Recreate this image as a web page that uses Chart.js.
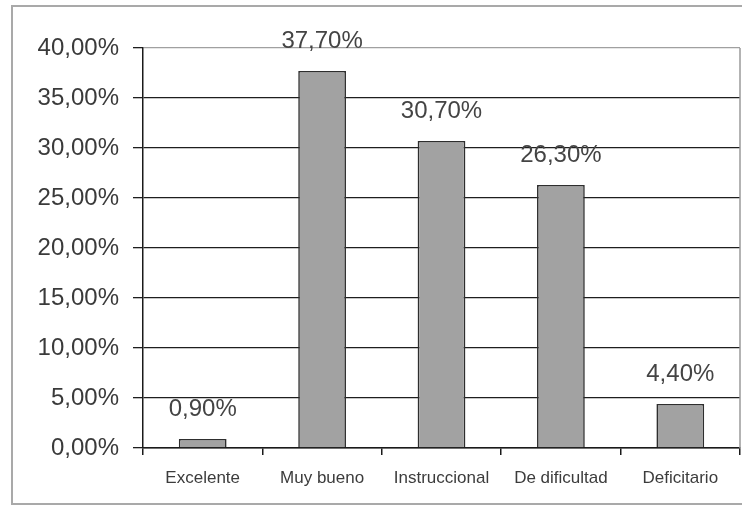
<!DOCTYPE html>
<html>
<head>
<meta charset="utf-8">
<script src="https://cdn.jsdelivr.net/npm/chart.js@4/dist/chart.umd.min.js"></script>
<style>
  html, body { margin: 0; padding: 0; background: #ffffff; }
  #wrap { width: 742px; height: 506px; position: relative; }
</style>
</head>
<body>
<div id="wrap"><canvas id="chart"></canvas></div>
<script>
// Distribución por nivel de lectura
const categories = ['Excelente', 'Muy bueno', 'Instruccional', 'De dificultad', 'Deficitario'];
const percentages = [0.9, 37.7, 30.7, 26.3, 4.4];
const axisMin = 0;
const axisMax = 40;
const axisStep = 5;

const fmtPct = v => v.toFixed(2).replace('.', ',') + '%';

// Outer frame and the right edge of the plot area
const framePlugin = {
  id: 'frame',
  beforeDraw(chart) {
    const c = chart.ctx;
    c.save();
    c.fillStyle = '#ffffff';
    c.fillRect(0, 0, chart.width, chart.height);
    c.strokeStyle = '#a9a9a9';
    c.lineWidth = 2;
    c.strokeRect(12, 6, 740, 498);
    c.restore();
  },
  afterDraw(chart) {
    const a = chart.chartArea;
    const c = chart.ctx;
    c.save();
    c.strokeStyle = '#9a9a9a';
    c.lineWidth = 1.5;
    c.beginPath();
    c.moveTo(a.right, a.top);
    c.lineTo(a.right, a.bottom);
    c.stroke();
    c.restore();
  }
};

// Value labels above each bar
const valueLabels = {
  id: 'valueLabels',
  afterDatasetsDraw(chart) {
    const c = chart.ctx;
    const meta = chart.getDatasetMeta(0);
    const data = chart.data.datasets[0].data;
    c.save();
    c.font = '24px "Liberation Sans", Arial, sans-serif';
    c.fillStyle = '#444444';
    c.textAlign = 'center';
    c.textBaseline = 'middle';
    meta.data.forEach((bar, i) => {
      c.fillText(fmtPct(data[i]), bar.x, bar.y - 30);
    });
    c.restore();
  }
};

new Chart(document.getElementById('chart'), {
  type: 'bar',
  data: {
    labels: categories,
    datasets: [{
      data: percentages,
      backgroundColor: '#a2a2a2',
      borderColor: '#2e2e2e',
      borderWidth: 1.6,
      borderSkipped: 'bottom',
      categoryPercentage: 1.0,
      barPercentage: 0.4
    }]
  },
  options: {
    responsive: true,
    maintainAspectRatio: false,
    animation: false,
    devicePixelRatio: 1,
    layout: { padding: { left: 0, right: 2, top: 48, bottom: 18 } },
    plugins: {
      legend: { display: false },
      tooltip: { enabled: false }
    },
    scales: {
      x: {
        grid: {
          offset: true,
          drawOnChartArea: false,
          drawTicks: true,
          tickLength: 7,
          color: '#1a1a1a',
          lineWidth: 1.5
        },
        border: { color: '#1a1a1a', width: 1.5 },
        ticks: {
          padding: 13,
          color: '#3c3c3c',
          font: { family: '"Liberation Sans", Arial, sans-serif', size: 17 },
          maxRotation: 0,
          autoSkip: false
        },
        afterFit(scale) { scale.height = 40; }
      },
      y: {
        min: axisMin,
        max: axisMax,
        grid: {
          color: ctx => (ctx.tick && ctx.tick.value === axisMax) ? '#a0a0a0' : '#1e1e1e',
          tickColor: '#1e1e1e',
          lineWidth: 1.3,
          tickLength: 10,
          drawTicks: true
        },
        border: { color: '#1a1a1a', width: 1.5 },
        ticks: {
          stepSize: axisStep,
          padding: 14,
          color: '#3a3a3a',
          font: { family: '"Liberation Sans", Arial, sans-serif', size: 24 },
          callback: v => fmtPct(v)
        },
        afterFit(scale) { scale.width = 143; }
      }
    }
  },
  plugins: [framePlugin, valueLabels]
});
</script>
</body>
</html>
